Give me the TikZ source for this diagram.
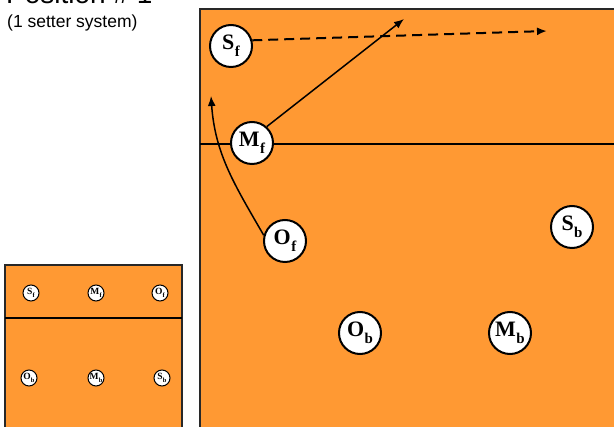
\documentclass[tikz,border=0pt]{standalone}
\usepackage{fontspec}
\usepackage{graphicx}
\setmainfont{Liberation Serif}
\newfontfamily\arialfont{Liberation Sans}
\usetikzlibrary{arrows.meta}
\definecolor{courtorange}{RGB}{255,153,51}
\definecolor{courtline}{RGB}{40,40,40}
\newcommand{\plab}[2]{\bfseries #1\kern0.02em\raisebox{-0.3em}{\scalebox{0.68}{#2}}}
\tikzset{
  court/.style={fill=courtorange, draw=courtline, line width=1.2pt},
  netline/.style={draw=black, line width=1.2pt},
  bigplayer/.style={circle, draw=black, fill=white, line width=2pt, minimum size=42pt, inner sep=0pt, font=\fontsize{22}{22}\selectfont},
  smallplayer/.style={circle, draw=black, fill=white, line width=1pt, minimum size=16pt, inner sep=0pt, font=\fontsize{9.5}{9.5}\selectfont},
  move/.style={-{Latex[length=10pt,width=8pt]}, line width=1.5pt},
  setmove/.style={move, dash pattern=on 10pt off 6pt, line width=2pt},
}
\begin{document}
\begin{tikzpicture}[x=1pt,y=-1pt]
\useasboundingbox (0,0) rectangle (614,427);
% title
\node[anchor=base west, inner sep=0pt, font=\arialfont\fontsize{28}{28}\selectfont] (title) at (6,4) {Position \# 1};
\node[anchor=base west, inner sep=0pt, font=\arialfont\fontsize{17.5}{17.5}\selectfont] (subtitle) at (7,28) {(1 setter system)};
% small court
\path[court] (5,265) rectangle (182,440);
\coordinate (snetl) at (5,318);
\coordinate (snetr) at (182,318);
\draw[netline] (snetl) -- (snetr);
% big court
\path[court] (200,9) rectangle (630,440);
\coordinate (bnetl) at (200,144);
\coordinate (bnetr) at (614,144);
\draw[netline] (bnetl) -- (bnetr);
% small players
\node[smallplayer] (sSf) at (31,293) {\plab{S}{f}};
\node[smallplayer] (sMf) at (96,293) {\plab{M}{f}};
\node[smallplayer] (sOf) at (160,293) {\plab{O}{f}};
\node[smallplayer] (sOb) at (29,378) {\plab{O}{b}};
\node[smallplayer] (sMb) at (96,378) {\plab{M}{b}};
\node[smallplayer] (sSb) at (162,378) {\plab{S}{b}};
% big players
\node[bigplayer] (Sf) at (231,46) {\plab{S}{f}};
\node[bigplayer] (Mf) at (252,143) {\plab{M}{f}};
\node[bigplayer] (Of) at (285,241) {\plab{O}{f}};
\node[bigplayer] (Sb) at (572,227) {\plab{S}{b}};
\node[bigplayer] (Ob) at (360,333) {\plab{O}{b}};
\node[bigplayer] (Mb) at (510,333) {\plab{M}{b}};
% movements
\coordinate (setend) at (547,31);
\coordinate (midend) at (404,19);
\coordinate (oppend) at (211,96);
\draw[setmove] (Sf.15) -- (setend);
\draw[move] (Mf.48) -- (midend);
\draw[move] (Of.165) to[out=120, in=-86] (oppend);
\end{tikzpicture}
\end{document}
